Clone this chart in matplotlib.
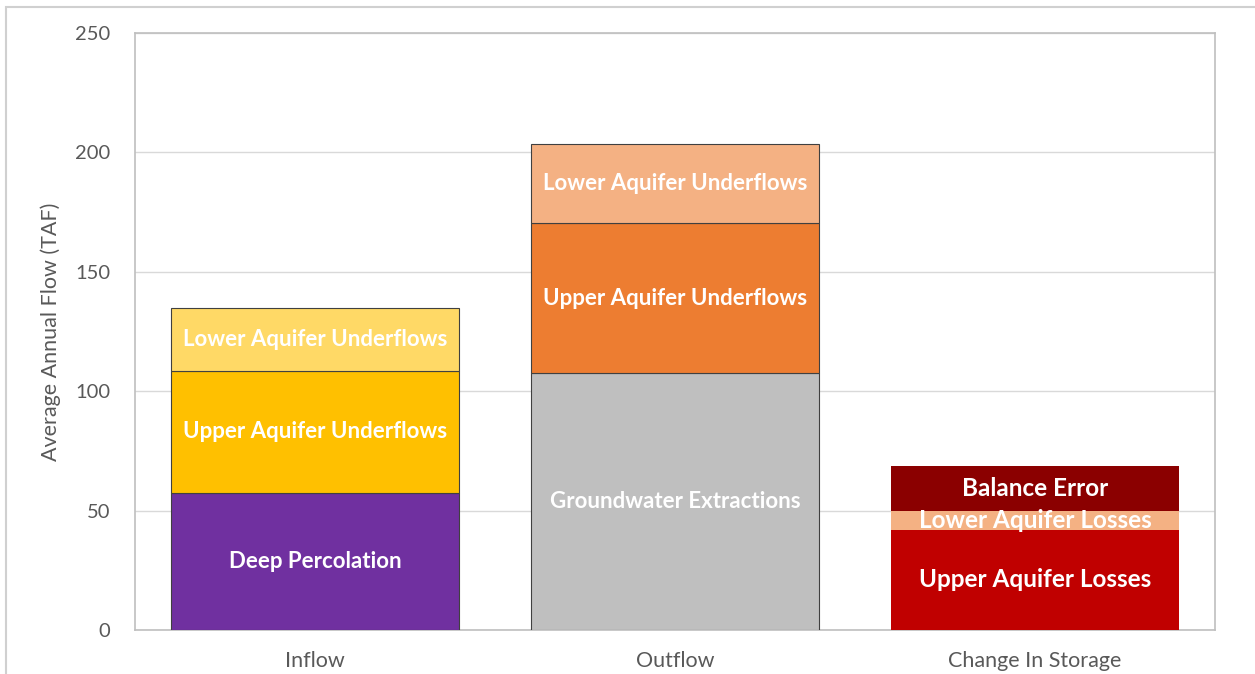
import numpy as np
import matplotlib.pyplot as plt
import matplotlib.patches as mpatches

plt.rcParams['font.family'] = ['Lato', 'DejaVu Sans']

# Data (thousand acre-feet per year)
categories = ['Inflow', 'Outflow', 'Change In Storage']

inflow_labels = ['Deep Percolation', 'Upper Aquifer Underflows', 'Lower Aquifer Underflows']
inflow_values = [57.4, 51.1, 26.3]

outflow_labels = ['Groundwater Extractions', 'Upper Aquifer Underflows', 'Lower Aquifer Underflows']
outflow_values = [107.6, 62.8, 33.1]

storage_labels = ['Upper Aquifer Losses', 'Lower Aquifer Losses', 'Balance Error']
storage_values = [41.9, 7.9, 18.9]

yticks = [0, 50, 100, 150, 200, 250]

# Styles
inflow_colors = ['#7030A0', '#FFC000', '#FFD966']
outflow_colors = ['#BFBFBF', '#ED7D31', '#F4B183']
storage_colors = ['#C00000', '#F4B183', '#8B0000']

fig = plt.figure(figsize=(12.55, 6.74), dpi=100)
ax = fig.add_axes([0.1076, 0.0653, 0.8606, 0.8857])

stacks = [
    (inflow_labels, inflow_values, inflow_colors, '#404040', 16),
    (outflow_labels, outflow_values, outflow_colors, '#404040', 16),
    (storage_labels, storage_values, storage_colors, 'none', 17.5),
]

x = np.arange(len(categories))
for i, (labels, values, colors, ec, fs) in enumerate(stacks):
    bottom = 0
    for lab, val, col in zip(labels, values, colors):
        ax.bar(x[i], val, bottom=bottom, width=0.8, color=col,
               edgecolor=ec, linewidth=0.8, zorder=3)
        ax.text(x[i], bottom + val / 2, lab, ha='center', va='center',
                color='white', fontsize=fs, fontweight='bold', zorder=4)
        bottom += val

ax.set_xlim(-0.5, 2.5)
ax.set_ylim(0, 250)
ax.set_yticks(yticks)
ax.set_xticks(x)
ax.set_xticklabels(categories)
ax.tick_params(axis='x', length=0, labelsize=15.5, colors='#595959', pad=15)
ax.tick_params(axis='y', length=0, labelsize=14.5, colors='#595959', pad=18)
ax.set_ylabel('Average Annual Flow (TAF)', fontsize=15.5, color='#595959', labelpad=10)
ax.grid(axis='y', color='#D9D9D9', linewidth=1, zorder=0)
for s in ax.spines.values():
    s.set_color('#BFBFBF')
    s.set_linewidth(1.2)

# light border around the whole figure (right/bottom run off the canvas)
fig.patches.append(mpatches.Rectangle((0.005, -0.05), 1.1, 1.04,
                                      transform=fig.transFigure, fill=False,
                                      edgecolor='#D0D0D0', linewidth=1.5))

fig.savefig('out.png', dpi=100)
